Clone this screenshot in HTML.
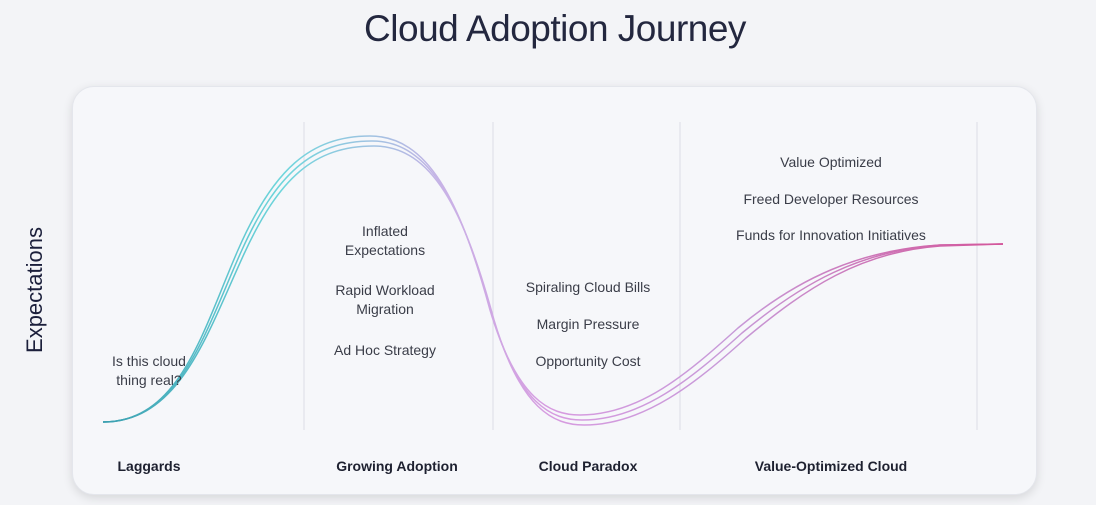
<!DOCTYPE html>
<html><head><meta charset="utf-8"><style>
html,body{margin:0;padding:0;}
body{width:1096px;height:505px;background:#f3f4f7;position:relative;overflow:hidden;font-family:"Liberation Sans",sans-serif;color:#3a3d48;}
.title{position:absolute;left:0;width:1110px;top:8px;text-align:center;font-size:37px;color:#23273f;letter-spacing:-0.5px;}
.card{position:absolute;left:72px;top:86px;width:965px;height:409px;border-radius:22px;background:#f6f7fa;box-shadow:0 3px 10px rgba(0,0,0,0.12);border:1px solid #e4e6ec;box-sizing:border-box;}
.yl{position:absolute;left:35px;top:290px;transform:translate(-50%,-50%) rotate(-90deg);font-size:22px;color:#1b1f3b;white-space:nowrap;}
.t{position:absolute;font-size:14px;text-align:center;line-height:19px;white-space:nowrap;transform:translateX(-50%);}
.b{position:absolute;font-size:14px;font-weight:bold;color:#1e2130;transform:translateX(-50%);white-space:nowrap;top:458px;}
</style></head><body>
<div class="title">Cloud Adoption Journey</div>
<div class="card"></div>
<div class="yl">Expectations</div>
<svg width="1096" height="505" style="position:absolute;left:0;top:0">
<defs><linearGradient id="g" x1="103" y1="0" x2="1003" y2="0" gradientUnits="userSpaceOnUse">
<stop offset="0" stop-color="#3a9fb0"/><stop offset="0.2" stop-color="#6fd6dc"/><stop offset="0.38" stop-color="#c9b2e6"/><stop offset="0.5" stop-color="#d79be0"/><stop offset="0.7" stop-color="#c79ad8"/><stop offset="1" stop-color="#d3559a"/></linearGradient></defs>
<g stroke="#dcdee6" stroke-width="1"><line x1="304" y1="122" x2="304" y2="430"/><line x1="493" y1="122" x2="493" y2="430"/><line x1="680" y1="122" x2="680" y2="430"/><line x1="977" y1="122" x2="977" y2="430"/></g>
<g fill="none" stroke="url(#g)" stroke-width="1.5">
<path d="M103,422 C180,422 203,330 238,250 C273,170 310,136 370,136 C428,136 460,200 490,310 C517,400 550,415 580,415 C640,415 688,373 738,328 C798,278 860,250 940,245 L1003,244"/>
<path d="M103,422 C180,422 205,332 241,252 C276,174 312,141 372,141 C430,141 462,205 492,315 C519,405 552,420 582,420 C642,420 692,378 742,333 C802,283 860,251 940,245 L1003,244"/>
<path d="M103,422 C180,422 207,334 244,254 C279,178 314,146 374,146 C432,146 464,210 494,320 C521,410 554,425 584,425 C644,425 696,383 746,338 C806,288 860,252 940,246 L1003,244"/>
</g></svg>
<div class="t" style="left:149px;top:352px">Is this cloud<br>thing real?</div>
<div class="t" style="left:385px;top:222px">Inflated<br>Expectations</div>
<div class="t" style="left:385px;top:281px">Rapid Workload<br>Migration</div>
<div class="t" style="left:385px;top:341px">Ad Hoc Strategy</div>
<div class="t" style="left:588px;top:278px">Spiraling Cloud Bills</div>
<div class="t" style="left:588px;top:315px">Margin Pressure</div>
<div class="t" style="left:588px;top:352px">Opportunity Cost</div>
<div class="t" style="left:831px;top:153px">Value Optimized</div>
<div class="t" style="left:831px;top:190px">Freed Developer Resources</div>
<div class="t" style="left:831px;top:226px">Funds for Innovation Initiatives</div>
<div class="b" style="left:149px">Laggards</div>
<div class="b" style="left:397px">Growing Adoption</div>
<div class="b" style="left:588px">Cloud Paradox</div>
<div class="b" style="left:831px">Value-Optimized Cloud</div>
</body></html>
